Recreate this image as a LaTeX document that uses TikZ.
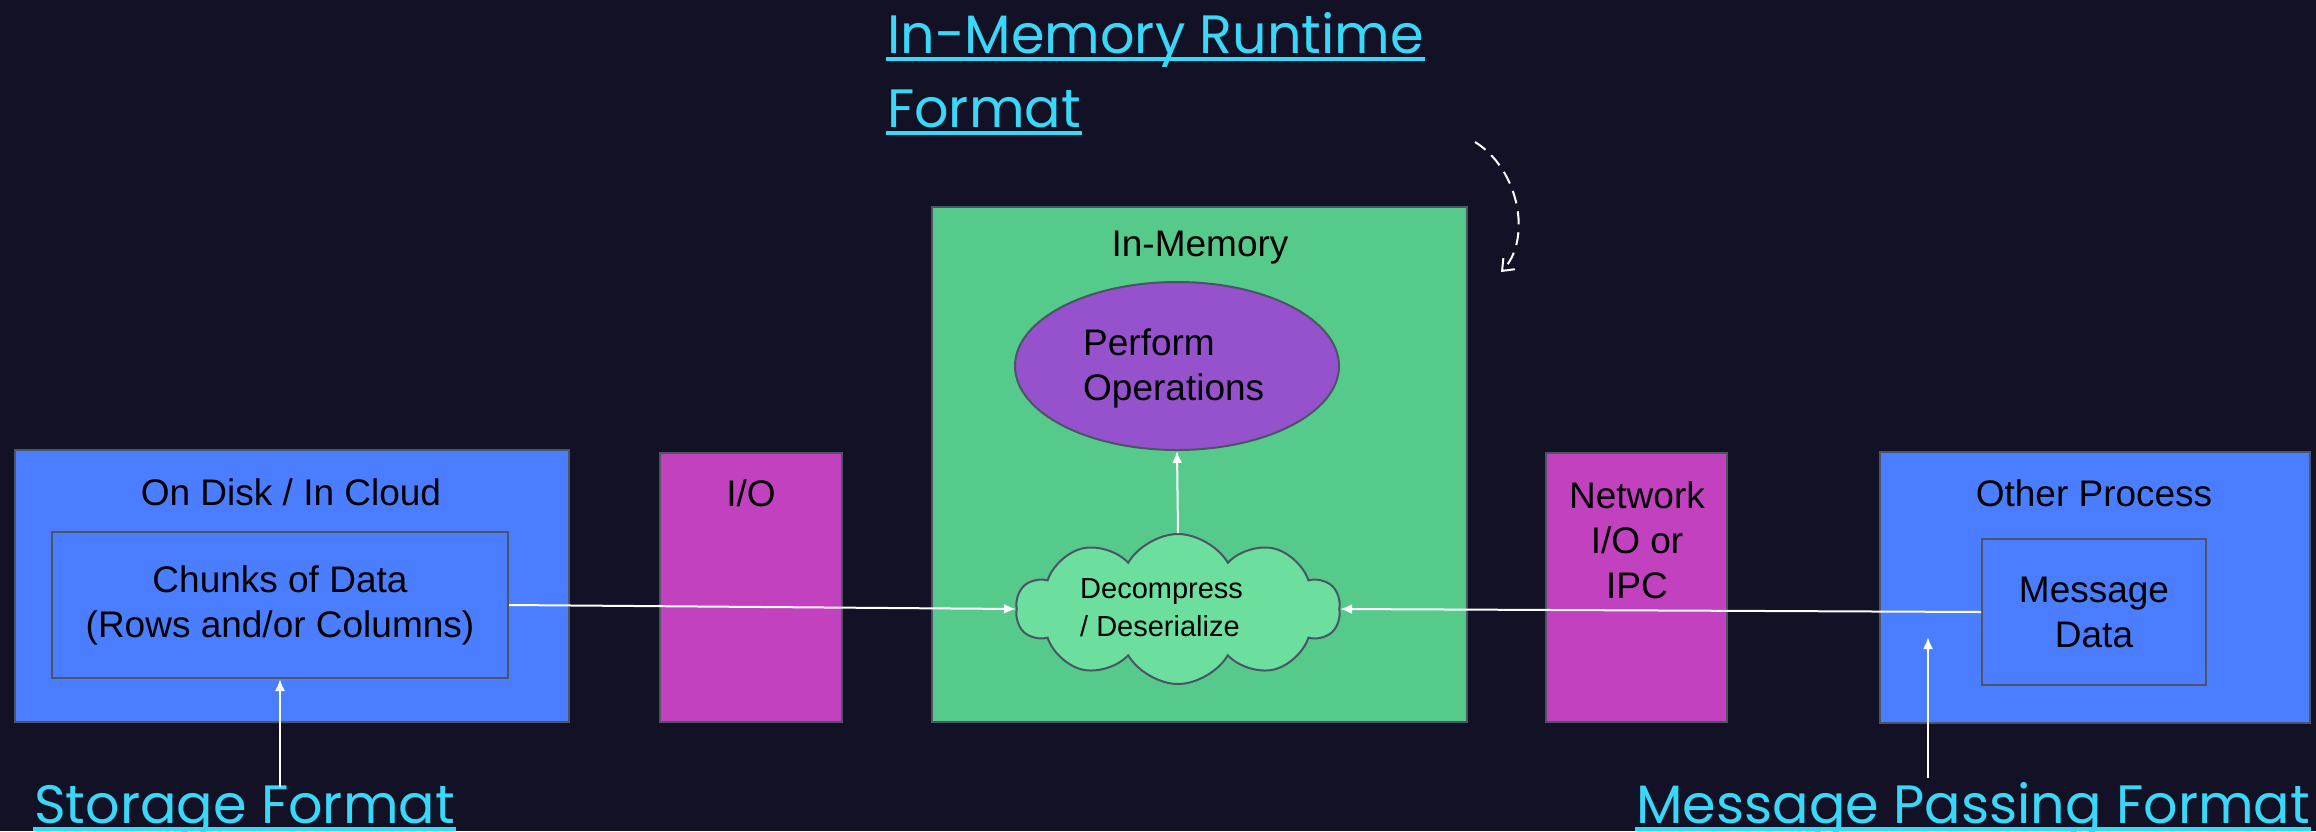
\documentclass[tikz,border=0pt]{standalone}
\usepackage{fontspec}
\setmainfont{Liberation Sans}
\newfontfamily\capfont{Poppins}
\usetikzlibrary{shapes.geometric,shapes.symbols,arrows.meta,calc}
\definecolor{bgc}{HTML}{121126}
\definecolor{bluec}{HTML}{4A7DFF}
\definecolor{magc}{HTML}{C241BE}
\definecolor{greenc}{HTML}{56CA8A}
\definecolor{cloudc}{HTML}{6CDF9F}
\definecolor{purpc}{HTML}{9552CC}
\definecolor{cyanc}{HTML}{3AD8F8}
\definecolor{edgec}{HTML}{4B5566}
\tikzset{
  box/.style={draw=edgec, line width=2pt, rectangle, inner sep=0pt},
  bluebox/.style={box, fill=bluec},
  magbox/.style={box, fill=magc},
  bodyfont/.style={font=\fontsize{37}{45}\selectfont, text=black, align=center},
  ttl/.style={bodyfont, inner sep=0pt},
  conn/.style={draw=white, line width=2pt, -{Latex[length=12pt,width=10pt]}},
  caplabel/.style={font=\capfont\fontsize{54}{74}\selectfont, text=cyanc, inner sep=0pt, anchor=base west},
  uline/.style={draw=cyanc, line width=4pt},
}
\begin{document}
\begin{tikzpicture}[x=1pt,y=-1pt]
\path[fill=bgc] (0,0) rectangle (2316,831);
\useasboundingbox (0,0) rectangle (2316,831);

% left: disk
\node[bluebox, minimum width=554pt, minimum height=272pt] (disk) at (291.7,586.4) {};
\node[ttl] (disktitle) at (291,492) {On Disk / In Cloud};
\node[bluebox, bodyfont, minimum width=456pt, minimum height=146pt] (chunks) at (280,605) {Chunks of Data\\(Rows and/or Columns)};

% I/O
\node[magbox, minimum width=182pt, minimum height=269pt] (io) at (751,587.5) {};
\node[ttl] (iotitle) at (751,493) {I/O};

% in-memory
\node[box, fill=greenc, minimum width=535pt, minimum height=515pt] (mem) at (1199.5,464.5) {};
\node[ttl] (memtitle) at (1200,248) {In-Memory};
\node[ellipse, draw=edgec, line width=2pt, fill=purpc, minimum width=324pt, minimum height=168pt, inner sep=0pt] (ops) at (1177,366) {};
\node[ttl, align=left, anchor=west] (opstxt) at (1083,368) {Perform\\Operations};
\node[cloud, cloud puffs=10, cloud puff arc=120, aspect=2.1, draw=edgec, line width=2pt, fill=cloudc, minimum width=324pt, minimum height=150pt, inner sep=0pt] (cloud) at (1178,609) {};
\node[font=\fontsize{29}{38}\selectfont, align=left, anchor=west, inner sep=0pt] (cloudtxt) at (1080,608) {Decompress\\/ Deserialize};

% network
\node[magbox, minimum width=181pt, minimum height=269pt] (net) at (1636.5,587.5) {};
\node[ttl] (nettitle) at (1637,540) {Network\\I/O or\\IPC};

% other process
\node[bluebox, minimum width=430pt, minimum height=271pt] (proc) at (2095,587.5) {};
\node[ttl] (proctitle) at (2094,493) {Other Process};
\node[bluebox, bodyfont, minimum width=224pt, minimum height=146pt] (msg) at (2094,612) {Message\\Data};

% cyan labels
\node[caplabel] (sf) at (34,823) {Storage Format};
\draw[uline] ($(sf.base west)+(-1,6)$) -- ($(sf.base east)+(1,6)$);
\node[caplabel] (mpf) at (1636,823) {Message Passing Format};
\draw[uline] ($(mpf.base west)+(-1,6)$) -- ($(mpf.base east)+(1,6)$);
\node[caplabel] (rt1) at (887,53) {In-Memory Runtime};
\draw[uline] ($(rt1.base west)+(-1,6)$) -- ($(rt1.base east)+(1,6)$);
\node[caplabel] (rt2) at (887,127) {Format};
\draw[uline] ($(rt2.base west)+(-1,6)$) -- ($(rt2.base east)+(1,6)$);

% connectors
\coordinate (sfa) at (280,787);
\coordinate (mpfa) at (1928,778);
\coordinate (mpfb) at (1928,637);
\coordinate (dstart) at (1475,142);
\coordinate (dend) at (1501,272);
\draw[conn] (sfa) -- (chunks.south);
\draw[conn] (mpfa) -- (mpfb);
\draw[conn] (chunks.east) -- (cloud.west);
\draw[conn] (msg.west) -- (cloud.east);
\draw[conn] (cloud.north) -- (ops.south);
\draw[white, line width=2pt, dash pattern=on 13pt off 8pt, -{Straight Barb[length=10pt,width=16pt]}] (dstart) .. controls (1520,170) and (1532,240) .. (dend);
\end{tikzpicture}
\end{document}
